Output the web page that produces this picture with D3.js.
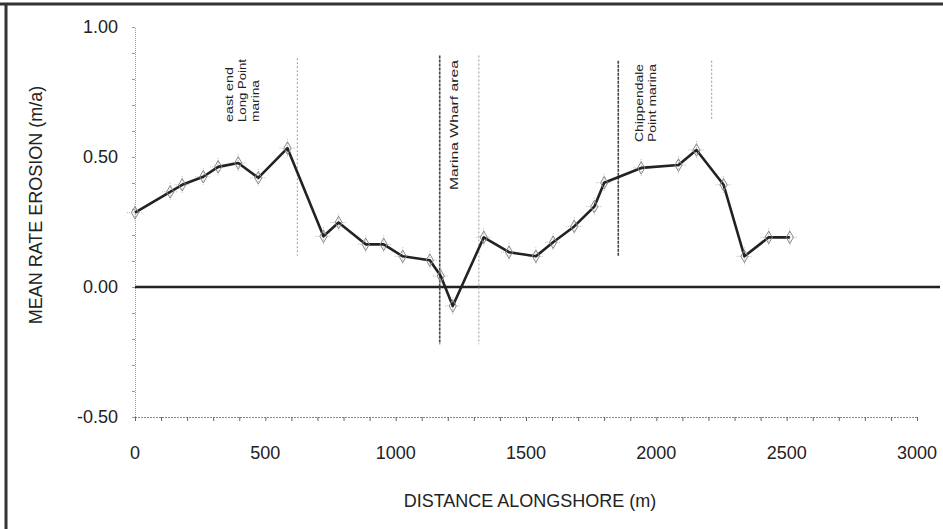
<!DOCTYPE html>
<html>
<head>
<meta charset="utf-8">
<script src="https://cdn.jsdelivr.net/npm/d3@7"></script>
<style>
html,body{margin:0;padding:0;background:#fff;}
svg{display:block;}
text{font-family:"Liberation Sans",Arial,sans-serif;fill:#222;}
</style>
</head>
<body>
<svg id="chart" width="943" height="529"></svg>
<script>
// ---- data ----
const distance = [0,135,181,262,319,396,473,585,723,781,885,954,1027,1131,1173,1219,1338,1435,1538,1604,1685,1762,1800,1942,2085,2154,2258,2338,2431,2512];
const erosion  = [0.286,0.366,0.393,0.424,0.462,0.477,0.420,0.534,0.195,0.248,0.164,0.164,0.118,0.103,0.042,-0.073,0.191,0.134,0.118,0.172,0.233,0.309,0.401,0.458,0.469,0.527,0.393,0.118,0.191,0.191];
const xTicks = [0,500,1000,1500,2000,2500,3000];
const yTicks = [1.00,0.50,0.00,-0.50];
const markerLines = [623,1169,1319,1854,2212];
const markerTop = [0.88,0.89,0.89,0.87,0.87];
const markerBottom = [0.12,-0.22,-0.22,0.12,0.64];
const siteLabels = [
  {d:375, lines:["east end","Long Point","marina"]},
  {d:1240, lines:["Marina Wharf area"]},
  {d:1950, lines:["Chippendale","Point marina"]}
];
const siteLabelLengths = [[55,63,42],[130],[78,78]];
const siteLabelBottoms = [122,190,142];

const svg = d3.select("#chart");
const x = d3.scaleLinear().domain([0,3000]).range([135,917]);
const y = d3.scaleLinear().domain([-0.5,1.0]).range([417,27]);

// frame (top and left)
svg.append("line").attr("x1",0).attr("x2",943).attr("y1",4).attr("y2",4).attr("stroke","#333").attr("stroke-width",3);
svg.append("line").attr("x1",6).attr("x2",6).attr("y1",3).attr("y2",529).attr("stroke","#333").attr("stroke-width",3);

// axes
const yAxis = d3.axisLeft(y).tickValues(d3.range(-0.5,1.0001,0.1)).tickSize(3).tickFormat("");
const gy = svg.append("g").attr("transform",`translate(${x(0)},0)`).call(yAxis);
gy.select(".domain").attr("stroke","#999").attr("stroke-dasharray","1,1");
gy.selectAll(".tick line").attr("stroke","#999");

const xAxis = d3.axisBottom(x).tickValues(d3.range(0,3001,100)).tickSize(4).tickFormat("");
const gx = svg.append("g").attr("transform",`translate(0,${y(-0.5)})`).call(xAxis);
gx.select(".domain").attr("stroke","#888").attr("stroke-dasharray","2,1");
gx.selectAll(".tick line").attr("stroke","#666");

// tick labels
svg.selectAll(".ylab").data(yTicks).enter().append("text")
  .attr("x",118).attr("y",d=>y(d)).attr("dy","0.35em")
  .attr("text-anchor","end").attr("font-size",18)
  .text(d=>d3.format(".2f")(d).replace("\u2212","-"));
svg.selectAll(".xlab").data(xTicks).enter().append("text")
  .attr("x",d=>x(d)).attr("y",459).attr("text-anchor","middle").attr("font-size",18)
  .text(d=>d);

// titles
svg.append("text").attr("x",530).attr("y",507).attr("text-anchor","middle").attr("font-size",18)
  .text("DISTANCE ALONGSHORE (m)");
svg.append("text").attr("transform","translate(42,205) rotate(-90)").attr("text-anchor","middle").attr("font-size",18)
  .text("MEAN RATE EROSION (m/a)");

// zero line
svg.append("line").attr("x1",x(0)).attr("x2",940).attr("y1",y(0)).attr("y2",y(0))
  .attr("stroke","#222").attr("stroke-width",2.5);

// site boundary lines
markerLines.forEach((d,i)=>{
  const dark = (i===1||i===3);
  svg.append("line").attr("x1",x(d)).attr("x2",x(d))
    .attr("y1",y(markerTop[i])).attr("y2",y(markerBottom[i]))
    .attr("stroke",dark?"#444":"#aaa").attr("stroke-width",dark?1.6:1.2)
    .attr("stroke-dasharray",dark?"3,1":"2,2");
});

// site labels
siteLabels.forEach((s,k)=>{
  s.lines.forEach((t,j)=>{
    svg.append("text")
      .attr("transform",`translate(${x(s.d)+j*13},${siteLabelBottoms[k]}) rotate(-90)`)
      .attr("font-size",10).attr("fill","#555")
      .attr("textLength",siteLabelLengths[k][j]).attr("lengthAdjust","spacingAndGlyphs")
      .text(t);
  });
});

// faint error crosses around points
const g = svg.append("g");
g.selectAll(".eb").data(erosion).enter().append("line")
  .attr("x1",(d,i)=>x(distance[i])).attr("x2",(d,i)=>x(distance[i]))
  .attr("y1",d=>y(d)-9).attr("y2",d=>y(d)+9)
  .attr("stroke","#bbb").attr("stroke-width",1).attr("stroke-dasharray","1,1");
g.selectAll(".ebh").data(erosion).enter().append("line")
  .attr("x1",(d,i)=>x(distance[i])-8).attr("x2",(d,i)=>x(distance[i])+8)
  .attr("y1",d=>y(d)).attr("y2",d=>y(d))
  .attr("stroke","#bbb").attr("stroke-width",1).attr("stroke-dasharray","1,1");

// data line
const line = d3.line().x((d,i)=>x(distance[i])).y((d,i)=>y(erosion[i]));
svg.append("path").datum(erosion).attr("d",line).attr("fill","none")
  .attr("stroke","#222").attr("stroke-width",2.6).attr("stroke-linejoin","round");

// markers (open diamonds)
svg.selectAll(".mk").data(erosion).enter().append("path")
  .attr("transform",(d,i)=>`translate(${x(distance[i])},${y(d)})`)
  .attr("d",d3.symbol().type(d3.symbolDiamond).size(45))
  .attr("fill","none").attr("stroke","#888").attr("stroke-width",1);
</script>
</body>
</html>
